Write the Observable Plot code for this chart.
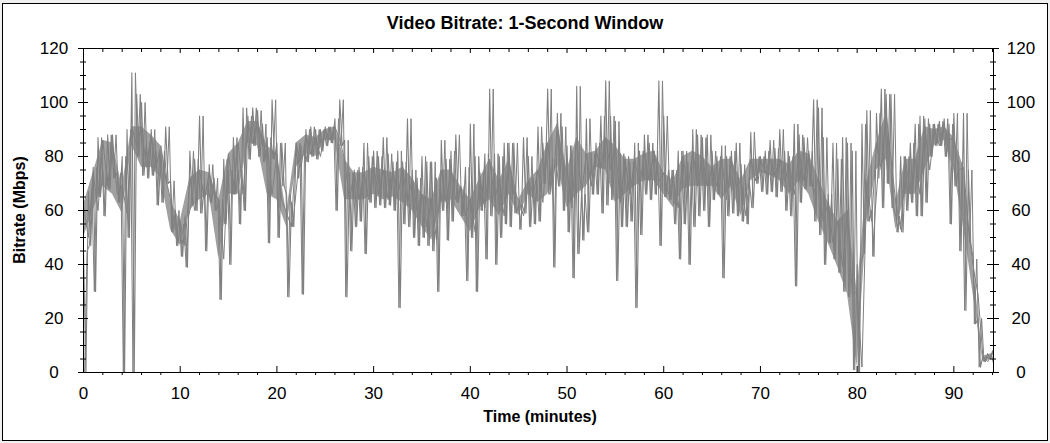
<!DOCTYPE html>
<html><head><meta charset="utf-8">
<script src="https://cdn.jsdelivr.net/npm/d3@7"></script>
<script src="https://cdn.jsdelivr.net/npm/@observablehq/plot@0.6"></script>
<style>
body{margin:0;background:#f0f0f0;}
#chart svg{display:block;font-family:"Liberation Sans",Arial,sans-serif;}
</style>
</head><body><div id="chart"></div>
<script>
const titleText = "Video Bitrate: 1-Second Window";
const xLabel = "Time (minutes)";
const yLabel = "Bitrate (Mbps)";
const xTickValues = [0, 10, 20, 30, 40, 50, 60, 70, 80, 90];
const yTickValues = [0, 20, 40, 60, 80, 100, 120];
const xMinorTicks = d3.range(0, 94.1, 2).filter(d => d % 10 !== 0);
const yMinorTicks = d3.range(0, 121, 5).filter(d => d % 20 !== 0);

// Upper / lower extremes of the 1-second bitrate (Mbps), every 0.5 minute from 0 to 94
const hi = [45,67,76,87,75,88,88,74,80,90,111,103,100,85,90,82,82,91,71,60,
            55,58,82,79,95,70,77,72,64,79,75,87,75,98,95,98,97,92,87,101,
            85,85,66,63,85,84,90,91,90,90,91,91,94,101,86,74,75,76,85,80,
            82,80,87,81,78,82,78,94,75,72,80,78,78,72,86,79,82,88,69,76,
            92,80,74,81,105,81,80,85,85,85,62,87,80,72,91,85,105,79,96,91,
            84,84,106,66,94,81,85,95,108,95,93,81,80,78,85,82,88,85,82,108,
            95,75,75,82,82,78,90,88,87,88,82,80,84,80,82,85,77,70,89,80,
            80,82,86,83,90,82,80,92,88,87,82,101,98,87,66,85,79,87,85,82,
            40,92,97,60,96,105,103,103,58,80,80,85,92,95,94,92,92,93,94,92,
            96,78,96,75,42,20,6,7,8];
const lo = [0,47,30,65,58,68,72,63,0,50,0,80,73,72,73,62,63,70,52,47,
            43,39,62,60,59,45,63,60,27,55,40,66,55,60,79,84,80,78,48,79,
            50,69,28,54,72,29,78,80,79,82,84,85,60,84,28,45,54,56,44,63,
            61,62,61,62,60,24,55,54,50,47,50,47,45,30,60,49,56,63,58,34,
            50,30,60,42,58,40,50,55,54,59,53,59,54,55,56,70,66,39,69,60,
            52,35,44,49,52,66,66,59,62,64,34,54,54,56,24,51,66,64,66,47,
            65,64,55,42,55,40,54,58,60,54,64,66,35,58,59,58,56,55,61,70,
            67,66,67,65,67,60,58,32,63,68,69,56,51,40,48,42,37,30,28,1,
            0,44,56,43,72,61,70,61,52,52,60,63,58,58,63,80,84,84,80,55,
            69,45,23,48,18,2,4,5,3];
// Dense core band of the signal (Mbps), every minute from 0 to 94
const coreHi = [62,74,86,85,69,91,91,88,84,64,56,72,75,74,64,81,85,93,93,84,
                81,59,85,88,87,90,91,79,74,74,76,75,74,76,72,66,64,75,75,69,
                64,72,79,71,79,64,71,75,85,92,75,87,81,82,87,84,79,79,81,82,
                74,71,80,82,80,76,79,79,71,79,79,79,79,77,82,81,72,63,56,60,
                30,71,85,96,63,79,79,91,90,91,87,76,39,6,7];
const coreLo = [50,60,69,66,59,84,76,76,72,53,47,60,64,66,42,66,66,85,84,66,
                64,54,76,81,80,86,86,64,64,64,66,64,65,63,60,54,49,63,64,58,
                52,61,64,58,66,58,66,63,66,77,61,66,69,76,75,63,66,69,71,71,
                66,61,68,69,69,69,64,69,58,71,74,73,71,66,71,66,56,48,39,29,
                2,56,75,79,53,66,66,75,84,86,75,54,29,4,5];
const minutes = hi.map((_, i) => i * 0.5);
const coreMinutes = coreHi.map((_, i) => i);

const rows = hi.map((h, i) => ({t: minutes[i], hi: h, lo: lo[i]}));
const zigA = rows.flatMap(r => [{t: r.t, v: r.hi}, {t: r.t + 0.25, v: r.lo}]);
const zigB = rows.flatMap(r => [{t: r.t + 0.12, v: r.lo}, {t: r.t + 0.37, v: r.hi}]);
const core = coreHi.map((h, i) => ({t: coreMinutes[i], hi: h, lo: coreLo[i]}));
const zigC = core.flatMap(r => [{t: r.t, v: r.hi}, {t: r.t + 0.5, v: r.lo}]);

const W = 1050, H = 443, mL = 83, mR = 57, mT = 48, mB = 71;
const pW = W - mL - mR, pH = H - mT - mB;
const col = "#808080";

const chart = Plot.plot({
  width: W, height: H,
  marginLeft: mL, marginRight: mR, marginTop: mT, marginBottom: mB,
  style: {background: "transparent", fontFamily: "Liberation Sans, Arial, sans-serif"},
  x: {domain: [0, 94.1], axis: null},
  y: {domain: [0, 120], axis: null},
  marks: [
    Plot.areaY(core, {x: "t", y1: "lo", y2: "hi", fill: col, fillOpacity: 0.75, curve: "linear", clip: true}),
    Plot.line(zigC, {x: "t", y: "v", stroke: col, strokeWidth: 1, clip: true}),
    Plot.line(zigB, {x: "t", y: "v", stroke: col, strokeWidth: 1, clip: true}),
    Plot.line(zigA, {x: "t", y: "v", stroke: col, strokeWidth: 1.1, clip: true}),
    Plot.frame({stroke: "black"}),
    // left ticks (crossing)
    Plot.ruleY(yTickValues, {y: d => d, insetLeft: -5, insetRight: pW - 5, stroke: "black"}),
    Plot.ruleY(yMinorTicks, {y: d => d, insetLeft: -3, insetRight: pW - 3, stroke: "black"}),
    // right ticks (crossing)
    Plot.ruleY(yTickValues, {y: d => d, insetLeft: pW - 6, insetRight: -6, stroke: "black"}),
    Plot.ruleY(yMinorTicks, {y: d => d, insetLeft: pW - 3, insetRight: -3, stroke: "black"}),
    // bottom ticks
    Plot.ruleX(xTickValues, {x: d => d, insetTop: pH - 6, insetBottom: 0, stroke: "black"}),
    Plot.ruleX(xMinorTicks, {x: d => d, insetTop: pH, insetBottom: -3, stroke: "black"}),
    // top ticks
    Plot.ruleX(xTickValues, {x: d => d, insetTop: 0, insetBottom: pH - 5, stroke: "black"}),
    Plot.ruleX(xMinorTicks, {x: d => d, insetTop: 0, insetBottom: pH - 4, stroke: "black"}),
    // tick labels
    Plot.text(yTickValues, {y: d => d, text: d => String(d), frameAnchor: "left", dx: -29.5, textAnchor: "middle", fontSize: 17, fill: "black"}),
    Plot.text(yTickValues, {y: d => d, text: d => String(d), frameAnchor: "right", dx: 27.5, textAnchor: "middle", fontSize: 17, fill: "black"}),
    Plot.text(xTickValues, {x: d => d, text: d => String(d), frameAnchor: "bottom", dy: 21, lineAnchor: "middle", fontSize: 17, fill: "black"})
  ]
});

const svg = d3.select(chart);
svg.insert("rect", ":first-child")
  .attr("x", 2.5).attr("y", 3.5).attr("width", 1045).attr("height", 437)
  .attr("fill", "white").attr("stroke", "black");
svg.append("text").text(titleText)
  .attr("x", 525).attr("y", 24).attr("text-anchor", "middle").attr("dominant-baseline", "middle")
  .attr("font-weight", "bold").attr("font-size", 18).attr("fill", "black");
svg.append("text").text(xLabel)
  .attr("x", 540).attr("y", 418).attr("text-anchor", "middle").attr("dominant-baseline", "middle")
  .attr("font-weight", "bold").attr("font-size", 16).attr("fill", "black");
svg.append("text").text(yLabel)
  .attr("transform", "translate(21,210) rotate(-90)").attr("text-anchor", "middle").attr("dominant-baseline", "middle")
  .attr("font-weight", "bold").attr("font-size", 16).attr("fill", "black");

document.getElementById("chart").appendChild(chart);
</script>
</body></html>
